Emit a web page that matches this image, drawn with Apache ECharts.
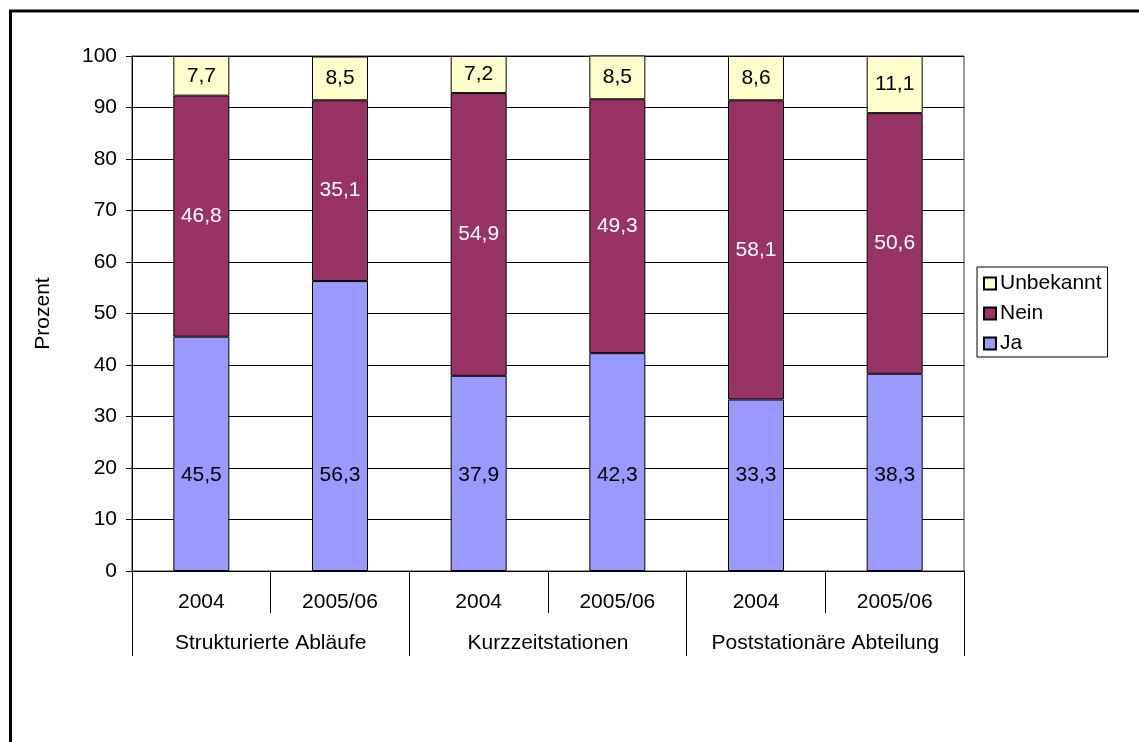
<!DOCTYPE html>
<html>
<head>
<meta charset="utf-8">
<script src="https://cdn.jsdelivr.net/npm/echarts@6/dist/echarts.min.js"></script>
<style>
html,body{margin:0;padding:0;background:#fff;}
#c{width:1139px;height:742px;}
</style>
</head>
<body>
<div id="c"></div>
<script>
var years = ['2004', '2005/06', '2004', '2005/06', '2004', '2005/06'];
var groups = ['Strukturierte Abläufe', 'Kurzzeitstationen', 'Poststationäre Abteilung'];
var ja = [45.5, 56.3, 37.9, 42.3, 33.3, 38.3];
var nein = [46.8, 35.1, 54.9, 49.3, 58.1, 50.6];
var unbekannt = [7.7, 8.5, 7.2, 8.5, 8.6, 11.1];
var yTicks = [0, 10, 20, 30, 40, 50, 60, 70, 80, 90, 100];

var FONT = 'Liberation Sans, Arial, sans-serif';
var FS = 21;
function fmt(p) { return String(p.value).replace('.', ','); }

var chart = echarts.init(document.getElementById('c'), null, {renderer: 'canvas'});
chart.setOption({
  backgroundColor: '#fff',
  animation: false,
  textStyle: {fontFamily: FONT},
  graphic: [{
    type: 'rect',
    shape: {x: 10.5, y: 11, width: 1300, height: 900},
    style: {fill: 'none', stroke: '#000', lineWidth: 3},
    z: 100
  }],
  grid: {left: 132, right: 175, top: 56, bottom: 171, show: true, borderColor: '#333', borderWidth: 1, containLabel: false},
  legend: {
    orient: 'vertical',
    left: 977, top: 267,
    padding: [6, 6, 3, 6],
    itemGap: 9,
    itemWidth: 12, itemHeight: 12,
    borderColor: '#000', borderWidth: 1,
    icon: 'rect',
    textStyle: {fontFamily: FONT, fontSize: FS, color: '#000', padding: [0, 0, 0, -1]},
    data: ['Unbekannt', 'Nein', 'Ja']
  },
  xAxis: [{
    type: 'category',
    data: years,
    position: 'bottom',
    axisLine: {show: true, lineStyle: {color: '#000', width: 1}},
    axisTick: {show: true, interval: 0, length: 42, alignWithLabel: false, lineStyle: {color: '#000'}},
    axisLabel: {interval: 0, margin: 21, fontFamily: FONT, fontSize: FS, color: '#000'},
    splitLine: {show: false}
  }, {
    type: 'category',
    data: groups,
    position: 'bottom',
    offset: 0,
    axisLine: {show: false},
    axisTick: {show: true, interval: 0, length: 85, alignWithLabel: false, lineStyle: {color: '#000'}},
    axisLabel: {interval: 0, margin: 62, fontFamily: FONT, fontSize: FS, color: '#000'},
    splitLine: {show: false}
  }],
  yAxis: {
    type: 'value',
    min: yTicks[0], max: yTicks[yTicks.length - 1], interval: 10,
    name: 'Prozent',
    nameLocation: 'middle',
    nameRotate: 90,
    nameGap: 78,
    nameTextStyle: {fontFamily: FONT, fontSize: FS, color: '#000'},
    axisLine: {show: true, lineStyle: {color: '#000', width: 1}},
    axisTick: {show: true, length: 6, lineStyle: {color: '#000'}},
    axisLabel: {margin: 15, fontFamily: FONT, fontSize: FS, color: '#000'},
    splitLine: {show: true, lineStyle: {color: '#000', width: 1}}
  },
  series: [{
    name: 'Ja', type: 'bar', stack: 's', xAxisIndex: 0, barWidth: 56,
    data: ja,
    itemStyle: {color: '#9999FF', borderColor: '#000', borderWidth: 1},
    label: {show: true, position: 'insideBottom', distance: 85, formatter: fmt, fontFamily: FONT, fontSize: FS, color: '#000'}
  }, {
    name: 'Nein', type: 'bar', stack: 's', xAxisIndex: 0, barWidth: 56,
    data: nein,
    itemStyle: {color: '#993366', borderColor: '#000', borderWidth: 1},
    label: {show: true, position: 'inside', formatter: fmt, fontFamily: FONT, fontSize: FS, color: '#fff'}
  }, {
    name: 'Unbekannt', type: 'bar', stack: 's', xAxisIndex: 0, barWidth: 56,
    data: unbekannt,
    itemStyle: {color: '#FFFFCC', borderColor: '#000', borderWidth: 1},
    label: {show: true, position: 'inside', formatter: fmt, fontFamily: FONT, fontSize: FS, color: '#000'}
  }]
});
</script>
</body>
</html>
